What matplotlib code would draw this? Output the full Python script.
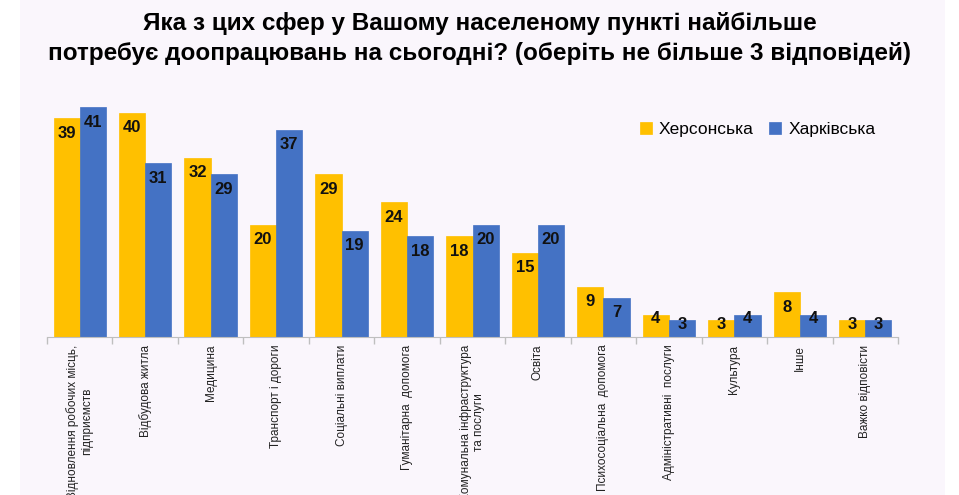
import matplotlib
matplotlib.use("Agg")
import matplotlib.pyplot as plt
from matplotlib.patches import Rectangle
from matplotlib import font_manager
import numpy as np

plt.rcParams['font.family'] = ['Liberation Sans', 'DejaVu Sans']
names = {f.name for f in font_manager.fontManager.ttflist}
value_family = ['Liberation Sans Narrow', 'Liberation Sans'] if 'Liberation Sans Narrow' in names else ['Liberation Sans']

title = "Яка з цих сфер у Вашому населеному пункті найбільше\nпотребує доопрацювань на сьогодні? (оберіть не більше 3 відповідей)"
categories = [
    "Відновлення робочих місць,\nпідприємств",
    "Відбудова житла",
    "Медицина",
    "Транспорт і дороги",
    "Соціальні виплати",
    "Гуманітарна  допомога",
    "Комунальна інфраструктура\nта послуги",
    "Освіта",
    "Психосоціальна  допомога",
    "Адміністративні  послуги",
    "Культура",
    "Інше",
    "Важко відповісти",
]
series_names = ["Херсонська", "Харківська"]
kherson = [39, 40, 32, 20, 29, 24, 18, 15, 9, 4, 3, 8, 3]
kharkiv = [41, 31, 29, 37, 19, 18, 20, 20, 7, 3, 4, 4, 3]
colors = ["#FFC000", "#4472C4"]

fig = plt.figure(figsize=(9.59, 4.95), dpi=100, facecolor="white")
fig.patches.append(Rectangle((20/959, 0), (945-20)/959, 1, transform=fig.transFigure,
                             facecolor="#FAF6FC", edgecolor="none", zorder=-10))

ax = fig.add_axes([47/959, (495-337)/495, (898-47)/959, (337-96)/495])
ax.set_facecolor("none")
x = np.arange(len(categories))
w = 0.4
ylim_top = 43
px_per_unit = 241 / ylim_top
for i, (vals, col) in enumerate(zip([kherson, kharkiv], colors)):
    xs = x + (i - 0.5) * w
    ax.bar(xs, vals, width=w, color=col, edgecolor=col, linewidth=0.5, label=series_names[i])
    for xi, v in zip(xs, vals):
        off_px = 15 if v >= 7 else 4
        ax.text(xi, v - off_px / px_per_unit, str(v), ha="center", va="center",
                fontsize=12, fontweight="bold", color="#111111", family=value_family)

ax.set_xlim(-0.5, len(categories) - 0.5)
ax.set_ylim(0, ylim_top)
ax.set_yticks([])
for s in ["top", "right", "left"]:
    ax.spines[s].set_visible(False)
ax.spines["bottom"].set_color("#BFBFBF")
ax.set_xticks(np.arange(len(categories) + 1) - 0.5, minor=False)
ax.set_xticklabels([])
ax.tick_params(axis="x", length=5, color="#BFBFBF", width=1)
for xi, lab in zip(x, categories):
    ax.annotate(lab, xy=(xi, 0), xycoords=("data", "axes fraction"),
                xytext=(0, -5.5), textcoords="offset points",
                rotation=90, ha="center", va="top", fontsize=8.5,
                color="#222222", multialignment="center")

leg = ax.legend(loc="upper left", bbox_to_anchor=((624-47)/851, 0.958), ncol=2, frameon=False,
                fontsize=12.5, handlelength=0.7, handleheight=0.7, handletextpad=0.4,
                columnspacing=0.9)

fig.text(0.5, 1 - 38.5/495, title, ha="center", va="center", fontsize=17.5,
         fontweight="bold", linespacing=1.4, color="#000000")

fig.savefig("out.png", dpi=100, facecolor=fig.get_facecolor())
